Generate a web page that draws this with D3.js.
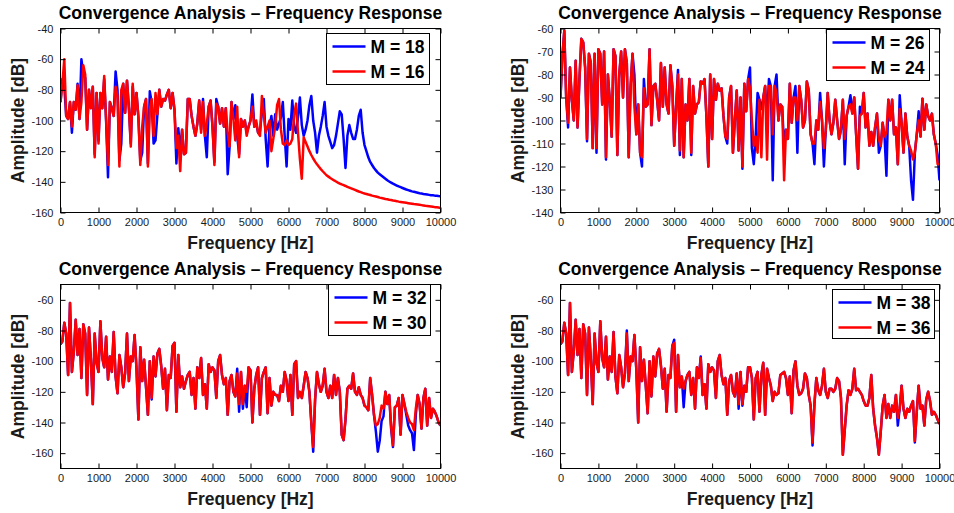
<!DOCTYPE html>
<html>
<head>
<meta charset="utf-8">
<script src="https://cdn.jsdelivr.net/npm/d3@7"></script>
<style>
  html, body { margin: 0; padding: 0; background: #fff; }
  svg { display: block; }
</style>
</head>
<body>
<svg id="chart" width="954" height="513"></svg>
<script>
// Uniform frequency bins (Hz) shared by every response curve
const binStepHz = 50;
const freqHz = d3.range(0, 10000 + binStepHz, binStepHz);

// Tick values
const xTicks = [0, 1000, 2000, 3000, 4000, 5000, 6000, 7000, 8000, 9000, 10000];
const yTicksTopLeft = [-160, -140, -120, -100, -80, -60, -40];
const yTicksTopRight = [-140, -130, -120, -110, -100, -90, -80, -70, -60];
const yTicksBottom = [-160, -140, -120, -100, -80, -60];

// Legend labels
const labelsTopLeft = ["M = 18", "M = 16"];
const labelsTopRight = ["M = 26", "M = 24"];
const labelsBottomLeft = ["M = 32", "M = 30"];
const labelsBottomRight = ["M = 38", "M = 36"];

// Amplitude responses [dB], one value per frequency bin
const ampM18 = [
  -88, -73, -78, -97, -99, -88, -108, -88, -93, -76,
  -99, -60, -70, -72, -106, -80, -92, -78, -122, -82,
  -113, -82, -92, -73, -100, -137, -88, -92, -97, -68,
  -80, -126, -115, -76, -95, -74, -92, -115, -78, -96,
  -82, -98, -126, -121, -91, -86, -128, -81, -88, -115,
  -113, -96, -80, -91, -86, -87, -83, -80, -92, -82,
  -93, -128, -105, -120, -106, -122, -121, -86, -86, -97,
  -104, -110, -102, -87, -106, -86, -110, -124, -91, -87,
  -104, -127, -86, -91, -102, -92, -104, -92, -135, -117,
  -88, -99, -90, -110, -122, -99, -104, -100, -108, -104,
  -100, -83, -104, -102, -108, -107, -95, -86, -112, -130,
  -104, -97, -110, -96, -106, -102, -98, -88, -110, -130,
  -99, -106, -87, -104, -108, -98, -85, -103, -110, -106,
  -100, -90, -84, -100, -108, -121, -110, -104, -97, -88,
  -104, -110, -114, -118, -116, -110, -102, -94, -96, -112,
  -131, -110, -103, -108, -112, -112, -106, -97, -93, -108,
  -116, -120, -124, -127, -129, -131, -132.5, -134, -135, -136,
  -137, -138, -139, -139.8, -140.5, -141.2, -141.8, -142.4, -143, -143.5,
  -144, -144.5, -145, -145.4, -145.8, -146.2, -146.5, -146.8, -147.1, -147.4,
  -147.6, -147.9, -148.1, -148.3, -148.5, -148.7, -148.8, -149, -149.1, -149.3,
  -149.4
];
const ampM16 = [
  -88, -76, -60, -97, -99, -88, -104, -88, -93, -77,
  -99, -88, -64, -70, -106, -80, -92, -78, -124, -82,
  -115, -82, -92, -71, -99, -129, -88, -92, -97, -78,
  -84, -130, -80, -76, -95, -74, -92, -117, -76, -96,
  -82, -98, -129, -104, -91, -86, -130, -93, -86, -110,
  -82, -96, -80, -91, -86, -87, -83, -80, -92, -82,
  -93, -118, -110, -133, -106, -122, -121, -86, -86, -97,
  -104, -110, -102, -87, -108, -88, -110, -102, -91, -87,
  -104, -129, -89, -91, -102, -92, -104, -92, -108, -117,
  -88, -99, -113, -91, -124, -99, -104, -100, -110, -104,
  -100, -91, -104, -100, -108, -110, -84, -96, -108, -104,
  -100, -120, -112, -104, -90, -86, -106, -115, -116, -113,
  -116, -115, -112, -96, -89, -108, -125, -138, -111, -114,
  -117, -120, -122.5, -124.8, -126.8, -128.6, -130.2, -131.7, -133.1, -134.4,
  -135.7, -136.6, -137.5, -138.3, -139.1, -139.8, -140.5, -141.1, -141.7, -142.2,
  -142.7, -143.3, -143.8, -144.3, -144.8, -145.3, -145.8, -146.3, -146.7, -147.2,
  -147.6, -147.9, -148.3, -148.6, -149, -149.3, -149.6, -149.9, -150.3, -150.6,
  -150.9, -151.2, -151.4, -151.7, -151.9, -152.2, -152.4, -152.6, -152.9, -153.1,
  -153.3, -153.5, -153.7, -153.9, -154.1, -154.3, -154.5, -154.6, -154.8, -155,
  -155.2, -155.4, -155.6, -155.7, -155.9, -156.1, -156.3, -156.5, -156.6, -156.8,
  -157
];
const ampM26 = [
  -90, -72, -61, -90, -103, -77, -91, -100, -74, -103,
  -82, -64.5, -66, -77, -109, -71, -75, -112, -71, -114,
  -69, -71, -93, -70, -117, -80, -91, -107, -69, -72,
  -115, -80, -70, -90, -69, -75, -116, -85, -71, -80,
  -106, -93, -114, -120, -82, -94, -93, -69, -102, -85,
  -84, -91, -100, -75, -94, -77, -93, -97, -76, -85,
  -111, -94, -78, -115, -82, -116, -93, -100, -82, -115,
  -85, -97, -93, -92, -83, -84, -82, -98, -120, -80,
  -108, -82, -91, -84, -87, -86, -98, -107, -110, -90,
  -85, -114, -100, -87, -113, -90, -121, -84, -96, -82,
  -77, -112, -119, -107, -88, -91, -95, -90, -85, -100,
  -82, -85, -126, -85, -80, -100, -93, -94, -112, -104,
  -108, -84, -101, -90, -85, -114, -85, -91, -103, -100,
  -83, -87, -106, -110, -119, -100, -104, -88, -100, -120,
  -104, -88, -100, -106, -101, -91, -100, -108, -104, -91,
  -119, -98, -94, -89, -97, -90, -106, -121, -94, -97,
  -88, -103, -97, -111, -105, -111, -103, -97, -114, -111,
  -101, -107, -124, -91, -100, -91, -106, -103, -119, -89,
  -101, -114, -97, -107, -111, -126, -134.5, -114, -106, -96,
  -107, -90.5, -104, -93, -98, -100, -97, -106, -110, -115,
  -126
];
const ampM24 = [
  -90, -72, -61, -90, -101, -77, -91, -100, -74, -103,
  -82, -64.5, -66, -77, -108, -71, -75, -112, -71, -112,
  -69, -71, -93, -70, -116, -80, -91, -107, -69, -72,
  -115, -80, -70, -90, -69, -75, -116, -85, -71, -94,
  -106, -93, -114, -116, -86, -94, -93, -69, -102, -85,
  -84, -91, -100, -75, -94, -77, -93, -97, -76, -85,
  -111, -94, -80, -113, -82, -116, -93, -100, -82, -114,
  -85, -97, -93, -92, -83, -84, -82, -98, -120, -80,
  -108, -82, -91, -84, -87, -86, -98, -107, -108, -90,
  -85, -114, -100, -87, -113, -90, -120, -84, -96, -82,
  -86, -100, -111, -107, -114, -91, -116, -90, -85, -117,
  -85, -85, -106, -85, -88, -100, -93, -94, -126, -104,
  -108, -84, -101, -90, -90, -100, -85, -91, -103, -100,
  -83, -87, -106, -110, -110, -100, -104, -92, -100, -112,
  -104, -88, -100, -106, -101, -91, -100, -108, -104, -91,
  -108, -98, -94, -93, -97, -90, -106, -121, -98, -97,
  -88, -103, -97, -111, -105, -111, -103, -97, -108, -111,
  -101, -107, -105, -91, -100, -91, -106, -103, -119, -95,
  -101, -114, -97, -107, -111, -113, -117, -114, -106, -100,
  -107, -90.5, -104, -93, -98, -100, -97, -106, -110, -119,
  -119
];
const ampM32 = [
  -89, -87, -75, -82, -109, -62, -107, -94, -73, -96,
  -79, -111, -76, -82, -122, -78, -99, -128, -82, -101,
  -107, -74, -98, -104, -84, -112, -97, -107, -81, -110,
  -121, -96, -104, -117, -108, -82, -113, -97, -100, -83,
  -105, -138, -91, -113, -99, -117, -135, -100, -125, -97,
  -110, -95, -92, -103, -118, -105, -132, -109, -111, -90,
  -88, -133, -96, -117, -110, -118, -113, -109, -107, -122,
  -111, -131, -104, -111, -98, -122, -115, -131, -102, -107,
  -104, -106, -124, -100, -96, -109, -115, -111, -135, -113,
  -109, -120, -123, -105, -133, -107, -131, -116, -130, -104,
  -106, -140, -118, -109, -104, -135, -111, -107, -104, -134,
  -111, -129, -120, -122, -122, -126, -116, -120, -107, -113,
  -126, -109, -135, -102, -100, -124, -120, -124, -116, -107,
  -111, -120, -140, -159, -125, -107, -115, -120, -116, -105,
  -120, -124, -116, -124, -109, -122, -111, -120, -148, -151.5,
  -138, -118, -116, -118, -108, -120, -122, -117, -122, -124,
  -129, -130, -132, -111, -122, -135, -146, -159, -152, -139,
  -136, -120, -128, -122, -144, -156, -130, -129, -124, -148,
  -122, -128, -135, -142, -145, -147, -158, -135, -122, -128,
  -144, -124, -118, -142, -124, -137, -131, -133, -136, -140,
  -142
];
const ampM30 = [
  -89, -87, -75, -82, -109, -62, -107, -94, -73, -96,
  -79, -111, -76, -82, -122, -78, -99, -128, -82, -101,
  -107, -74, -98, -104, -84, -112, -97, -107, -81, -110,
  -121, -96, -104, -117, -108, -82, -113, -97, -100, -83,
  -105, -138, -91, -113, -99, -116, -135, -100, -124, -97,
  -110, -95, -92, -103, -118, -105, -132, -109, -111, -90,
  -88, -133, -96, -117, -110, -118, -113, -109, -107, -122,
  -111, -131, -104, -111, -98, -122, -115, -131, -102, -107,
  -104, -106, -124, -100, -96, -109, -115, -111, -135, -113,
  -109, -120, -123, -108, -128, -107, -128, -116, -120, -104,
  -106, -140, -118, -109, -104, -135, -111, -107, -104, -134,
  -111, -129, -120, -122, -122, -126, -116, -120, -107, -113,
  -126, -109, -135, -102, -100, -124, -120, -124, -116, -107,
  -111, -120, -140, -156, -125, -107, -115, -120, -116, -105,
  -120, -124, -116, -124, -109, -122, -111, -120, -148, -151.5,
  -138, -118, -116, -118, -108, -120, -122, -117, -122, -124,
  -129, -130, -132, -111, -122, -135, -142, -141, -137, -129,
  -131, -120, -128, -122, -142, -155, -130, -129, -124, -148,
  -122, -128, -133, -137, -140, -141, -145, -131, -122, -128,
  -144, -124, -118, -142, -124, -137, -131, -133, -136, -140,
  -142
];
const ampM38 = [
  -89, -87, -75, -82, -109, -62, -107, -94, -73, -96,
  -79, -111, -76, -82, -122, -78, -99, -128, -82, -101,
  -107, -74, -98, -104, -84, -112, -97, -107, -81, -110,
  -121, -96, -104, -117, -108, -80, -113, -97, -100, -83,
  -105, -140, -91, -113, -99, -116, -134, -100, -123, -97,
  -110, -95, -92, -103, -118, -105, -133, -109, -111, -90,
  -86, -133, -96, -117, -110, -130, -113, -109, -107, -122,
  -111, -131, -104, -111, -97, -122, -115, -131, -102, -107,
  -104, -106, -124, -100, -96, -109, -115, -111, -135, -113,
  -109, -120, -123, -108, -131, -107, -129, -116, -120, -104,
  -104, -111, -138, -111, -107, -133, -109, -101, -135, -105,
  -111, -116, -126, -120, -122, -121, -109, -108, -107, -111,
  -122, -110, -134, -106, -100, -116, -122, -121, -118, -108,
  -111, -122, -129, -155, -128, -111, -119, -122, -116, -105,
  -120, -124, -118, -118, -120, -118, -111, -113, -124, -161,
  -145, -129, -119, -122, -118, -105, -119, -118, -120, -122,
  -126, -129, -129, -124, -109, -131, -142, -150, -161, -146,
  -129, -122, -137, -128, -137, -129, -133, -122, -142, -131,
  -116, -131, -137, -131, -133, -129, -126, -153, -133, -116,
  -131, -129, -142, -125, -120, -126, -135, -133, -135, -138,
  -141
];
const ampM36 = [
  -89, -87, -75, -82, -109, -62, -107, -94, -73, -96,
  -79, -111, -76, -82, -122, -78, -99, -128, -82, -101,
  -107, -74, -98, -104, -84, -112, -97, -107, -81, -110,
  -121, -96, -104, -117, -108, -82, -113, -97, -100, -83,
  -105, -140, -91, -113, -99, -116, -134, -100, -123, -97,
  -110, -95, -92, -103, -118, -105, -133, -109, -111, -90,
  -88, -133, -96, -117, -110, -118, -113, -109, -107, -122,
  -111, -131, -104, -111, -98, -122, -115, -131, -102, -107,
  -104, -106, -124, -100, -96, -109, -115, -111, -135, -113,
  -109, -120, -123, -108, -128, -107, -128, -116, -120, -104,
  -104, -111, -138, -111, -107, -133, -109, -101, -135, -105,
  -111, -116, -126, -120, -122, -121, -109, -108, -107, -111,
  -122, -110, -134, -106, -100, -116, -122, -121, -118, -108,
  -111, -122, -129, -153, -128, -111, -119, -122, -116, -105,
  -120, -124, -118, -118, -120, -118, -111, -113, -124, -161,
  -145, -129, -119, -122, -118, -105, -119, -118, -120, -122,
  -126, -129, -129, -124, -109, -131, -142, -150, -161, -146,
  -129, -122, -137, -128, -137, -129, -133, -122, -137, -131,
  -116, -131, -137, -131, -133, -129, -126, -152, -133, -116,
  -131, -129, -142, -125, -120, -126, -135, -133, -135, -138,
  -141
];

const BLUE = "#0000ff";
const RED = "#ff0000";
const FONT = '"Liberation Sans", Arial, Helvetica, sans-serif';
const TITLE = "Convergence Analysis \u2013 Frequency Response";
const LABEL_SIZE = 17.5;

const panels = [
  { left: 60.5, right: 440.5, top: 28.5, bottom: 212.5, yDomain: [-160, -40], yTicks: yTicksTopLeft,
    labels: labelsTopLeft, values: [ampM18, ampM16], legend: { x: 326.5, y: 33.5, w: 103, h: 51 } },
  { left: 560.5, right: 939.5, top: 28.5, bottom: 212.5, yDomain: [-140, -60], yTicks: yTicksTopRight,
    labels: labelsTopRight, values: [ampM26, ampM24], legend: { x: 826.5, y: 29.5, w: 103, h: 51 } },
  { left: 60.5, right: 440.5, top: 284.5, bottom: 468.5, yDomain: [-170, -50], yTicks: yTicksBottom,
    labels: labelsBottomLeft, values: [ampM32, ampM30], legend: { x: 328.5, y: 284.5, w: 102, h: 51 } },
  { left: 560.5, right: 939.5, top: 284.5, bottom: 468.5, yDomain: [-170, -50], yTicks: yTicksBottom,
    labels: labelsBottomRight, values: [ampM38, ampM36], legend: { x: 832.5, y: 289.5, w: 102, h: 49 } }
];
const colors = [BLUE, RED];

// plain hyphen-minus tick labels
const tickText = d => String(d);

const svg = d3.select("#chart").attr("font-family", FONT);

panels.forEach((p, idx) => {
  const x = d3.scaleLinear().domain([0, 10000]).range([p.left, p.right]);
  const y = d3.scaleLinear().domain(p.yDomain).range([p.bottom, p.top]);
  const g = svg.append("g");

  const clipId = "plot-clip-" + idx;
  g.append("clipPath").attr("id", clipId).append("rect")
    .attr("x", p.left).attr("y", p.top)
    .attr("width", p.right - p.left).attr("height", p.bottom - p.top);

  g.append("rect")
    .attr("x", p.left).attr("y", p.top)
    .attr("width", p.right - p.left).attr("height", p.bottom - p.top)
    .attr("fill", "#fff");

  // response curves, the shorter filter drawn last
  const line = d3.line()
    .x((d, i) => x(freqHz[i]))
    .y(d => y(d));
  p.values.forEach((vals, k) => {
    g.append("path")
      .datum(vals)
      .attr("clip-path", `url(#${clipId})`)
      .attr("fill", "none")
      .attr("stroke", colors[k])
      .attr("stroke-width", 2.5)
      .attr("stroke-linejoin", "round")
      .attr("d", line);
  });

  // axes with inward ticks on all four sides
  const styleAxis = sel => {
    sel.select(".domain").remove();
    sel.selectAll(".tick line").attr("stroke", "#000").attr("stroke-width", 1);
    sel.selectAll(".tick text").attr("fill", "#1a1a1a").attr("font-size", 11).attr("font-family", FONT);
  };
  g.append("g").attr("transform", `translate(0,${p.bottom})`)
    .call(d3.axisBottom(x).tickValues(xTicks).tickSizeInner(-5).tickSizeOuter(0).tickPadding(6).tickFormat(tickText))
    .call(styleAxis);
  g.append("g").attr("transform", `translate(0,${p.top})`)
    .call(d3.axisTop(x).tickValues(xTicks).tickSizeInner(-5).tickSizeOuter(0).tickFormat(""))
    .call(styleAxis);
  g.append("g").attr("transform", `translate(${p.left},0)`)
    .call(d3.axisLeft(y).tickValues(p.yTicks).tickSizeInner(-5).tickSizeOuter(0).tickPadding(7).tickFormat(tickText))
    .call(styleAxis);
  g.append("g").attr("transform", `translate(${p.right},0)`)
    .call(d3.axisRight(y).tickValues(p.yTicks).tickSizeInner(-5).tickSizeOuter(0).tickFormat(""))
    .call(styleAxis);

  g.append("rect")
    .attr("x", p.left).attr("y", p.top)
    .attr("width", p.right - p.left).attr("height", p.bottom - p.top)
    .attr("fill", "none").attr("stroke", "#000").attr("stroke-width", 1);

  const cx = (p.left + p.right) / 2;
  const cy = (p.top + p.bottom) / 2;

  g.append("text")
    .attr("x", cx).attr("y", p.top - 10)
    .attr("text-anchor", "middle")
    .attr("font-size", LABEL_SIZE).attr("font-weight", "bold").attr("fill", "#000")
    .text(TITLE);

  g.append("text")
    .attr("x", cx).attr("y", p.bottom + 36)
    .attr("text-anchor", "middle")
    .attr("font-size", LABEL_SIZE).attr("font-weight", "bold").attr("fill", "#1a1a1a")
    .text("Frequency [Hz]");

  g.append("text")
    .attr("transform", `translate(${p.left - 36.5},${cy}) rotate(-90)`)
    .attr("text-anchor", "middle")
    .attr("font-size", LABEL_SIZE).attr("font-weight", "bold").attr("fill", "#1a1a1a")
    .text("Amplitude [dB]");

  // legend
  const L = p.legend;
  const lg = g.append("g").attr("transform", `translate(${L.x},${L.y})`);
  lg.append("rect").attr("width", L.w).attr("height", L.h)
    .attr("fill", "#fff").attr("stroke", "#000").attr("stroke-width", 1);
  p.labels.forEach((lab, k) => {
    const ry = 13 + k * 25;
    lg.append("line")
      .attr("x1", 6).attr("x2", 39).attr("y1", ry).attr("y2", ry)
      .attr("stroke", colors[k]).attr("stroke-width", 2.5);
    lg.append("text")
      .attr("x", 44).attr("y", ry + 6)
      .attr("font-size", LABEL_SIZE).attr("font-weight", "bold").attr("fill", "#000")
      .text(lab);
  });
});
</script>
</body>
</html>
